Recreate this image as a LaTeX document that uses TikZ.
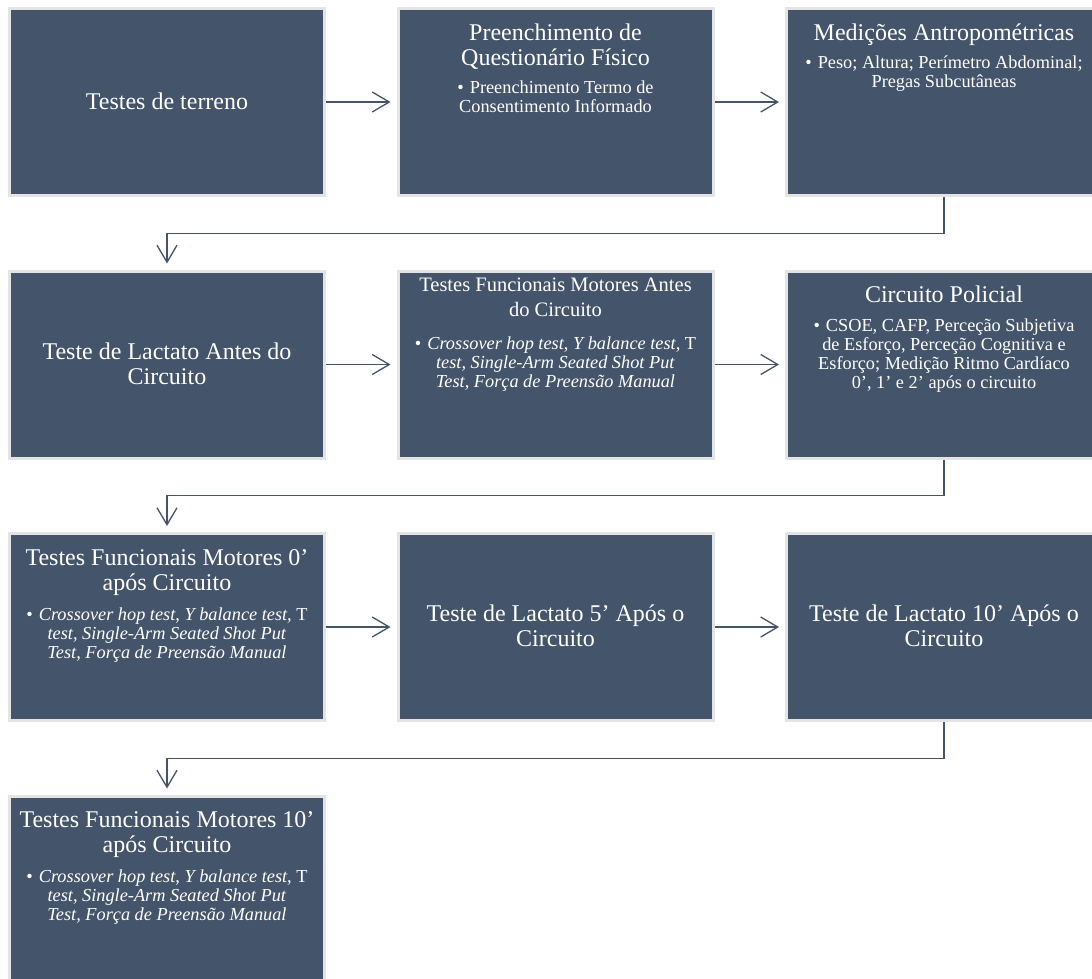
\documentclass[tikz,border=0pt]{standalone}
\usepackage{fontspec}
\setmainfont{Liberation Serif}
\usetikzlibrary{arrows.meta,calc}
\definecolor{boxfill}{HTML}{44546A}
\definecolor{boxrim}{HTML}{E4E4E4}
\definecolor{conncol}{HTML}{44546A}
\setlength{\lineskiplimit}{-100pt}
\newcommand{\bulletmark}{•\hspace{6pt}}
\newcommand{\boxtitle}[1]{{\fontsize{24}{25}\selectfont #1\par}}
\newcommand{\boxtitlesmall}[1]{{\fontsize{20.5}{25}\selectfont #1\par}}
\newcommand{\boxbullet}[2][9.5pt]{\vspace{#1}{\fontsize{18.3}{19}\selectfont #2\par}}
\newcommand{\boxbody}[1]{\parbox[t]{312pt}{\centering #1}}
\newcommand{\testitems}{\bulletmark\textit{Crossover hop test}, \textit{Y balance test,} T\\\textit{test, Single-Arm Seated Shot Put}\\\textit{Test, Força de Preensão Manual}}
\begin{document}
\begin{tikzpicture}[x=1pt,y=-1pt,
  stepbox/.style={draw=boxrim, line width=3pt, fill=boxfill, minimum width=315pt, minimum height=187pt, inner sep=0pt, outer sep=0pt},
  boxtext/.style={anchor=base, inner sep=0pt, outer sep=0pt, text=white},
  conn/.style={draw=conncol, line width=1.3pt, -{Straight Barb[length=17pt,width=20pt]}, shorten >=7.5pt, shorten <=1.5pt}]
\useasboundingbox (0,0) rectangle (1092,978);
\clip (0,0) rectangle (1092,978);
\fill[white] (0,0) rectangle (1092,978);

% boxes
\node[stepbox] (m1) at (167,102) {};
\node[stepbox] (m2) at (555.5,102) {};
\node[stepbox] (m3) at (944,102) {};
\node[stepbox] (m4) at (167,364.5) {};
\node[stepbox] (m5) at (555.5,364.5) {};
\node[stepbox] (m6) at (944,364.5) {};
\node[stepbox] (m7) at (167,627) {};
\node[stepbox] (m8) at (555.5,627) {};
\node[stepbox] (m9) at (944,627) {};
\node[stepbox] (m10) at (167,889.5) {};

% texts
\node[boxtext] (t1) at ($(m1.center)+(0,7)$) {\boxbody{\boxtitle{Testes de terreno}}};
\node[boxtext] (t2) at ($(m2.north)+(0,31.5)$) {\boxbody{\boxtitle{Preenchimento de\\Questionário Físico}\boxbullet{\bulletmark Preenchimento Termo de\\Consentimento Informado}}};
\node[boxtext] (t3) at ($(m3.north)+(0,31.5)$) {\boxbody{\boxtitle{Medições Antropométricas}\boxbullet{\bulletmark Peso; Altura; Perímetro Abdominal;\\Pregas Subcutâneas}}};
\node[boxtext] (t4) at ($(m4.center)+(0,-5.5)$) {\boxbody{\boxtitle{Teste de Lactato Antes do\\Circuito}}};
\node[boxtext] (t5) at ($(m5.north)+(0,20)$) {\boxbody{\boxtitlesmall{Testes Funcionais Motores Antes\\do Circuito}\boxbullet[14pt]{\testitems}}};
\node[boxtext] (t6) at ($(m6.north)+(0,31.5)$) {\boxbody{\boxtitle{Circuito Policial}\boxbullet{\bulletmark CSOE, CAFP, Perceção Subjetiva\\de Esforço, Perceção Cognitiva e\\Esforço; Medição Ritmo Cardíaco\\0’, 1’ e 2’ após o circuito}}};
\node[boxtext] (t7) at ($(m7.north)+(0,31.5)$) {\boxbody{\boxtitle{Testes Funcionais Motores 0’\\após Circuito}\boxbullet[11pt]{\testitems}}};
\node[boxtext] (t8) at ($(m8.center)+(0,-5.5)$) {\boxbody{\boxtitle{Teste de Lactato 5’ Após o\\Circuito}}};
\node[boxtext] (t9) at ($(m9.center)+(0,-5.5)$) {\boxbody{\boxtitle{Teste de Lactato 10’ Após o\\Circuito}}};
\node[boxtext] (t10) at ($(m10.north)+(0,31.5)$) {\boxbody{\boxtitle{Testes Funcionais Motores 10’\\após Circuito}\boxbullet[10.5pt]{\testitems}}};

% connectors
\draw[conn] (m1.east) -- (m2.west);
\draw[conn] (m2.east) -- (m3.west);
\draw[conn] (m3.south) |- ($(m3.south)!.5!(m4.north)$) -| (m4.north);
\draw[conn] (m4.east) -- (m5.west);
\draw[conn] (m5.east) -- (m6.west);
\draw[conn] (m6.south) |- ($(m6.south)!.5!(m7.north)$) -| (m7.north);
\draw[conn] (m7.east) -- (m8.west);
\draw[conn] (m8.east) -- (m9.west);
\draw[conn] (m9.south) |- ($(m9.south)!.5!(m10.north)$) -| (m10.north);
\end{tikzpicture}
\end{document}
